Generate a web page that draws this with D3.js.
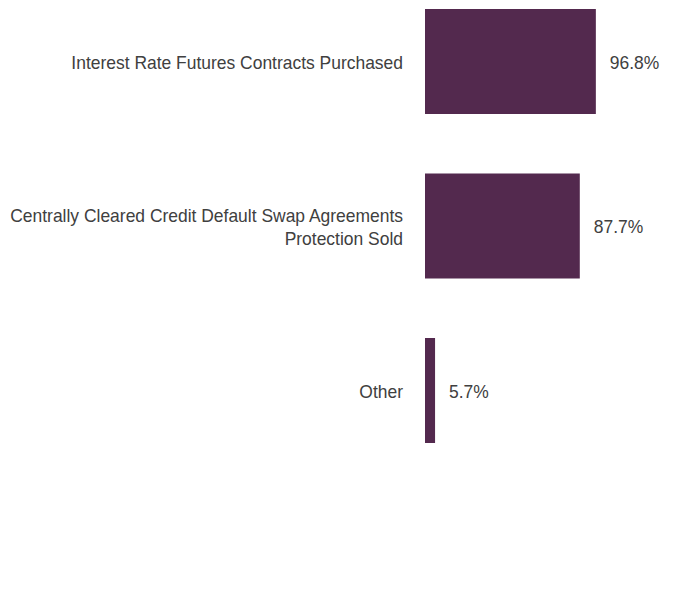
<!DOCTYPE html>
<html><head><meta charset="utf-8">
<script src="https://cdn.jsdelivr.net/npm/d3@7"></script>
<style>body{margin:0;background:#fff}svg{display:block}</style>
</head><body>
<svg id="c" width="696" height="600"></svg>
<script>
const categories = [
  ["Interest Rate Futures Contracts Purchased"],
  ["Centrally Cleared Credit Default Swap Agreements", "Protection Sold"],
  ["Other"]
];
const values = [96.8, 87.7, 5.7];
const valueLabels = ["96.8%", "87.7%", "5.7%"];

const svg = d3.select("#c");
const font = "'Liberation Sans', Arial, sans-serif";
const sx = 0.97;
const x = d3.scaleLinear().domain([0, 100]).range([425, 601.5]);
const y = d3.scaleBand().domain(d3.range(categories.length))
  .range([0, 452]).paddingInner(0.3617).paddingOuter(0.0547);

const g = svg.selectAll("g.row").data(values).join("g").attr("class", "row");
g.append("rect")
  .attr("x", x(0))
  .attr("y", (d, i) => y(i))
  .attr("width", d => x(d) - x(0))
  .attr("height", y.bandwidth())
  .attr("fill", "#53294e");
g.append("text")
  .attr("transform", (d, i) => `translate(${x(d) + 14},${y(i) + y.bandwidth() / 2 + 1}) scale(${sx},1)`)
  .attr("dy", "0.35em")
  .attr("font-family", font)
  .attr("font-size", 18)
  .attr("fill", "#404040")
  .text((d, i) => valueLabels[i]);
g.each(function(d, i) {
  const lines = categories[i];
  const lh = 23;
  const cy = y(i) + y.bandwidth() / 2 - (lines.length - 1) * lh / 2 + 1;
  const t = d3.select(this).append("text")
    .attr("transform", `translate(403,${cy}) scale(${sx},1)`)
    .attr("text-anchor", "end")
    .attr("font-family", font)
    .attr("font-size", 18)
    .attr("fill", "#404040");
  lines.forEach((l, k) => {
    t.append("tspan").attr("x", 0).attr("y", k * lh).attr("dy", "0.35em").text(l);
  });
});
</script>
</body></html>
